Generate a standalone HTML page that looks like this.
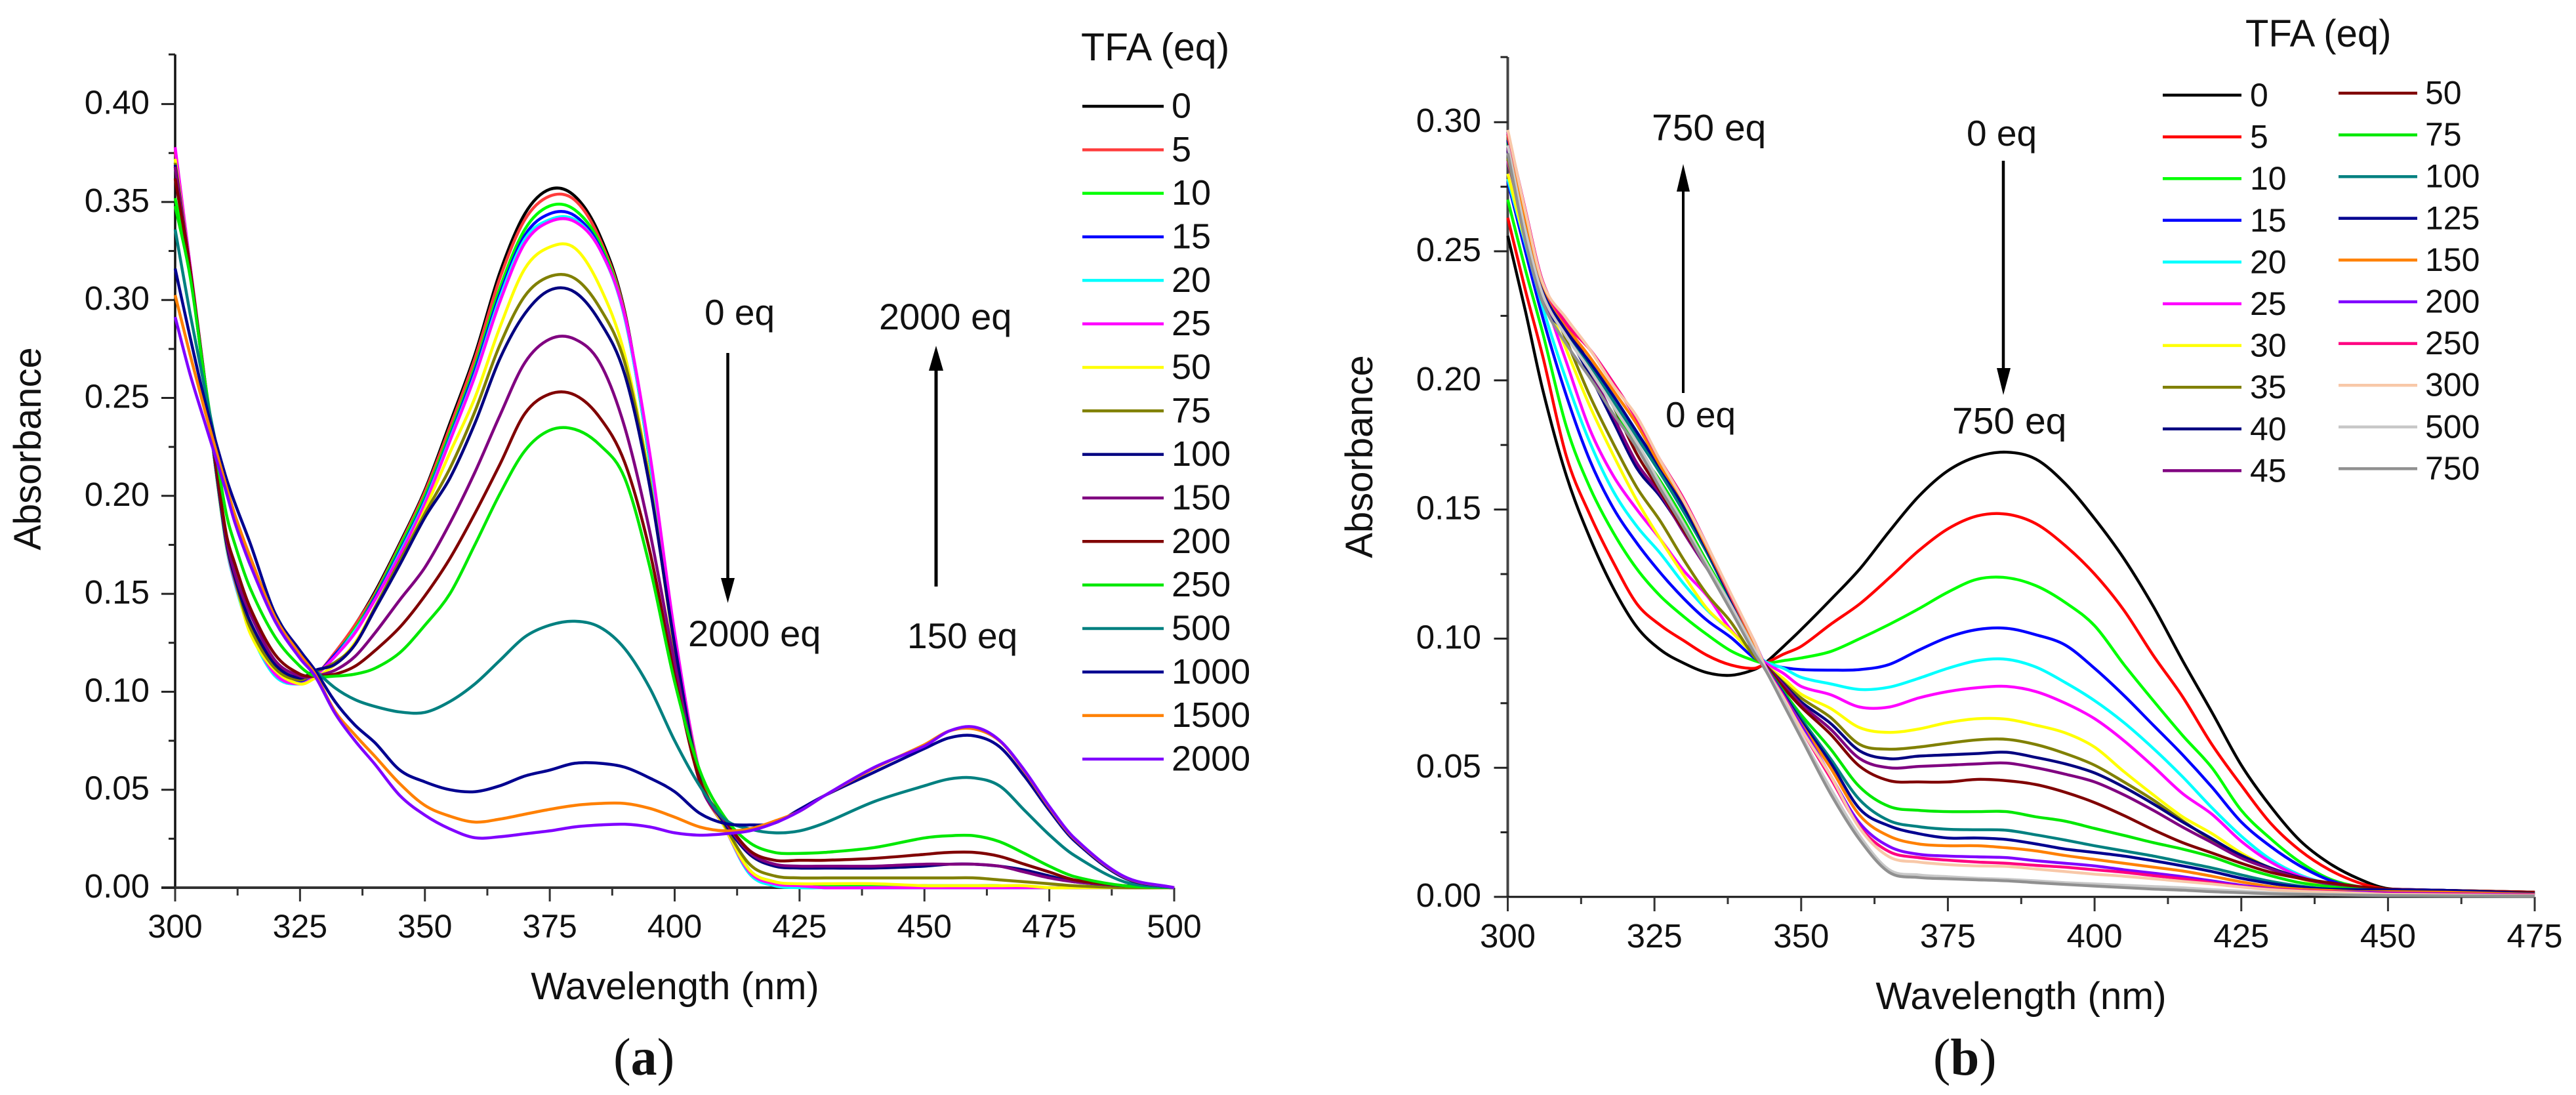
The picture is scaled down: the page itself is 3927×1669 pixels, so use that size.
<!DOCTYPE html>
<html lang="en">
<head>
<meta charset="utf-8">
<title>TFA titration absorbance spectra</title>
<style>
html,body{margin:0;padding:0;background:#fff;}
svg{display:block;}
text{font-family:"Liberation Sans",Arial,sans-serif;fill:#111;}
.serif{font-family:"Liberation Serif","Times New Roman",serif;}
</style>
</head>
<body>
<svg id="figure" xmlns="http://www.w3.org/2000/svg" width="3927" height="1669" viewBox="0 0 3927 1669">
  <rect x="0" y="0" width="3927" height="1669" fill="#fff"/>
  <g id="chartA">
    <text transform="translate(62,684) rotate(-90)" text-anchor="middle" font-size="58">Absorbance</text>
    <text x="1029" y="1523" text-anchor="middle" font-size="58">Wavelength (nm)</text>
    <text x="1648" y="92" font-size="59">TFA (eq)</text>
    <text x="1074" y="495" font-size="55">0 eq</text>
    <text x="1049" y="985" font-size="56">2000 eq</text>
    <text x="1340" y="502" font-size="56">2000 eq</text>
    <text x="1383" y="988" font-size="55">150 eq</text>
    <line x1="1109.5" y1="538" x2="1109.5" y2="885" stroke="#000" stroke-width="4.5"/>
    <polygon points="1099,881 1120,881 1109.5,919" fill="#000"/>
    <line x1="1427" y1="894" x2="1427" y2="560" stroke="#000" stroke-width="5"/>
    <polygon points="1416,565 1438,565 1427,527" fill="#000"/>
    <text class="serif" x="935" y="1638" font-size="80">(<tspan font-weight="bold">a</tspan>)</text>
  </g>
  <g id="chartB">
    <text transform="translate(2092,696) rotate(-90)" text-anchor="middle" font-size="58">Absorbance</text>
    <text x="3081" y="1538" text-anchor="middle" font-size="58.5">Wavelength (nm)</text>
    <text x="3423" y="71" font-size="58">TFA (eq)</text>
    <text x="2518" y="214" font-size="57">750 eq</text>
    <text x="2539" y="651" font-size="55">0 eq</text>
    <text x="2998" y="222" font-size="55">0 eq</text>
    <text x="2976" y="661" font-size="57">750 eq</text>
    <line x1="2566" y1="599" x2="2566" y2="288" stroke="#000" stroke-width="4"/>
    <polygon points="2556,292 2576,292 2566,250" fill="#000"/>
    <line x1="3054" y1="245" x2="3054" y2="565" stroke="#000" stroke-width="4.5"/>
    <polygon points="3044,561 3065,561 3054,602" fill="#000"/>
    <text class="serif" x="2947" y="1638" font-size="79">(<tspan font-weight="bold">b</tspan>)</text>
  </g>
</svg>
<script>
// ---------- Chart (a) data ----------
const wavelengthsA=[300,303,306,310,312,315,320,325,328,332,336,340,345,350,355,360,365,370,375,380,385,390,395,400,405,410,415,420,425,430,440,450,455,460,465,470,475,480,490,500];
const a0=[.368,.316,.256,.179,.156,.132,.111,.105,.108,.120,.134,.151,.176,.203,.237,.272,.314,.344,.3565,.353,.333,.294,.218,.125,.056,.031,.008,.002,.001,0,0,0,0,0,0,0,0,0,0,0];
const a5=[.376,.317,.256,.179,.156,.132,.111,.105,.108,.120,.134,.150,.175,.202,.235,.270,.311,.341,.353,.351,.331,.293,.218,.125,.056,.031,.008,.002,.001,.001,.001,.001,0,0,0,0,0,0,0,0];
const a10=[.352,.314,.256,.179,.156,.132,.111,.105,.108,.119,.132,.149,.174,.200,.232,.266,.306,.336,.348,.346,.329,.292,.218,.126,.057,.032,.009,.003,.001,.001,.001,.001,.001,.001,.001,0,0,0,0,0];
const a15=[.370,.316,.256,.179,.156,.132,.111,.105,.108,.119,.131,.148,.172,.198,.230,.264,.303,.333,.344,.343,.327,.291,.219,.127,.058,.032,.008,.002,.001,0,0,0,0,0,0,0,0,0,0,0];
const a20=[.372,.316,.256,.178,.155,.131,.108,.104,.108,.118,.131,.147,.171,.197,.229,.262,.301,.331,.341,.341,.326,.291,.219,.127,.058,.031,.007,.001,0,0,0,0,0,0,0,0,0,0,0,0];
const a25=[.378,.318,.258,.179,.156,.132,.109,.104,.108,.118,.130,.147,.170,.196,.228,.261,.299,.329,.340,.340,.326,.292,.222,.130,.059,.031,.008,.002,.001,0,0,0,0,0,0,0,0,0,0,0];
const a50=[.372,.316,.256,.179,.157,.130,.111,.104,.107,.114,.125,.143,.1665,.193,.222,.250,.286,.316,.327,.3265,.307,.272,.208,.122,.058,.031,.009,.003,.002,.002,.002,.001,.001,.001,.001,.001,0,0,0,0];
const a75=[.370,.316,.256,.180,.157,.133,.112,.106,.110,.115,.124,.143,.167,.191,.214,.243,.277,.302,.312,.311,.296,.268,.207,.123,.058,.032,.012,.006,.005,.005,.005,.005,.005,.005,.004,.003,.002,.001,0,0];
const a100=[.369,.316,.257,.180,.158,.136,.114,.107,.111,.114,.124,.142,.165,.189,.209,.237,.270,.293,.305,.304,.289,.262,.205,.124,.056,.033,.017,.011,.010,.010,.010,.011,.012,.012,.011,.009,.006,.003,.001,0];
const a150=[.368,.316,.258,.182,.160,.140,.116,.108,.108,.111,.118,.130,.147,.1635,.186,.212,.241,.268,.280,.280,.268,.235,.182,.115,.054,.034,.018,.012,.011,.011,.011,.012,.012,.012,.011,.008,.005,.003,.001,0];
const a200=[.362,.316,.258,.184,.165,.143,.119,.109,.108,.109,.113,.121,.133,.149,.168,.191,.216,.242,.252,.2515,.24,.217,.172,.108,.055,.035,.019,.014,.014,.014,.015,.017,.018,.018,.016,.012,.008,.004,.001,0];
const a250=[.348,.312,.258,.194,.175,.153,.128,.113,.108,.108,.109,.112,.120,.134,.150,.175,.201,.223,.2335,.234,.226,.209,.164,.105,.060,.036,.023,.018,.0175,.018,.0205,.0254,.0265,.0265,.0235,.0175,.011,.0057,.001,0];
const a500=[.336,.293,.254,.205,.188,.165,.140,.118,.111,.102,.096,.0925,.0897,.0895,.095,.104,.116,.128,.134,.136,.133,.122,.102,.075,.052,.035,.030,.028,.029,.033,.044,.052,.0555,.056,.052,.0396,.027,.0165,.003,0];
const a1000=[.316,.281,.248,.211,.196,.176,.140,.121,.111,.095,.083,.074,.060,.054,.050,.049,.052,.057,.060,.0635,.0635,.0615,.056,.049,.038,.0328,.032,.033,.040,.047,.059,.071,.0765,.0775,.072,.057,.0395,.024,.005,0];
const a1500=[.3025,.272,.243,.207,.190,.169,.138,.119,.109,.090,.078,.067,.053,.042,.0365,.0335,.035,.0375,.040,.042,.043,.043,.0405,.036,.031,.029,.030,.034,.039,.047,.061,.073,.080,.081,.075,.0595,.041,.025,.0055,0];
const a2000=[.2913,.262,.237,.204,.186,.165,.136,.117,.108,.089,.075,.063,.047,.037,.030,.0255,.026,.0275,.029,.031,.032,.0324,.031,.028,.0268,.0275,.029,.033,.039,.047,.0615,.0723,.080,.082,.0753,.06,.0415,.0254,.0057,0];
const seriesA=[a0,a5,a10,a15,a20,a25,a50,a75,a100,a150,a200,a250,a500,a1000,a1500,a2000];
const labelsA=["0","5","10","15","20","25","50","75","100","150","200","250","500","1000","1500","2000"];
const colorsA=["#000000","#ff3c3c","#00ff00","#0000ff","#00ffff","#ff00ff","#ffff00","#808000","#000080","#800080","#800000","#00e800","#008080","#000090","#ff8000","#8000ff"];
const xTicksA=[300,325,350,375,400,425,450,475,500];
const yTicksA=[0,0.05,0.10,0.15,0.20,0.25,0.30,0.35,0.40];

// ---------- Chart (b) data ----------
const wavelengthsB=[300,303,306,310,314,318,322,326,330,334,338,342,344,347,350,355,360,365,370,375,380,385,390,395,400,405,410,415,420,425,430,435,440,445,450,460,475];
const b0=[.256,.227,.196,.163,.139,.1195,.1045,.0957,.0905,.0868,.0858,.088,.0908,.097,.1035,.115,.127,.1415,.155,.165,.1705,.1722,.1695,.16,.1465,.131,.1125,.0915,.0715,.051,.035,.0218,.013,.007,.0032,.0025,.0018];
const b5=[.263,.235,.209,.1705,.148,.1295,.1135,.1052,.0992,.0935,.0898,.0885,.0905,.094,.097,.1055,.1135,.1235,.134,.1425,.1475,.1482,.1445,.136,.125,.111,.0935,.0775,.059,.0432,.0285,.018,.0105,.0055,.003,.0025,.0018];
const b10=[.27,.243,.218,.182,.1585,.141,.127,.1165,.1085,.1015,.0953,.0915,.0905,.0915,.0925,.095,.100,.1055,.1115,.118,.123,.1236,.1205,.114,.105,.090,.076,.0625,.050,.0335,.0225,.0135,.007,.004,.003,.0025,.0015];
const b15=[.277,.25,.224,.194,.169,.1505,.137,.1255,.1155,.107,.1005,.0925,.0905,.0888,.088,.0878,.088,.090,.0955,.1005,.1035,.104,.1015,.0975,.0885,.078,.0665,.055,.0425,.029,.0195,.012,.0065,.0035,.003,.0025,.0015];
const b20=[.278,.253,.228,.2,.176,.157,.1435,.133,.1212,.111,.103,.0945,.091,.0885,.085,.0825,.0803,.0812,.0846,.0885,.0915,.092,.089,.083,.076,.0675,.0575,.0465,.0345,.0235,.0145,.0085,.005,.003,.0025,.002,.0015];
const b25=[.285,.258,.234,.207,.181,.163,.150,.1385,.1263,.1165,.1035,.0945,.0905,.0865,.0815,.0783,.0735,.0735,.077,.0795,.081,.0815,.0795,.075,.069,.0605,.0505,.040,.032,.0215,.0135,.008,.005,.003,.0025,.002,.0015];
const b30=[.28,.254,.234,.2118,.19,.171,.1535,.1385,.1245,.1115,.103,.0935,.0895,.0845,.0785,.073,.0655,.0637,.065,.0675,.0690,.0688,.0665,.0635,.058,.0485,.0395,.031,.0245,.017,.011,.007,.0045,.003,.0025,.002,.0012];
const b35=[.286,.257,.237,.2155,.194,.1755,.1585,.1455,.1305,.117,.1065,.093,.0895,.083,.077,.0695,.059,.0572,.058,.0595,.0608,.061,.059,.0555,.051,.0445,.0375,.0295,.022,.0162,.0112,.0075,.005,.003,.0025,.002,.0012];
const b40=[.289,.255,.23,.218,.202,.184,.166,.155,.1415,.1275,.114,.095,.0895,.0825,.0755,.0672,.0565,.0535,.0545,.055,.0555,.056,.054,.0515,.048,.0425,.036,.029,.0225,.016,.0112,.0075,.005,.0035,.003,.0025,.0015];
const b45=[.29,.256,.231,.219,.204,.186,.168,.156,.141,.127,.1135,.0945,.0895,.082,.0745,.065,.0535,.050,.0505,.051,.0515,.0518,.050,.0475,.0445,.0395,.0335,.027,.021,.015,.0108,.0072,.005,.0035,.003,.0025,.0015];
const b50=[.291,.257,.232,.221,.206,.19,.1715,.157,.142,.128,.114,.095,.0895,.081,.0735,.063,.0505,.045,.0445,.0445,.0455,.045,.0435,.0405,.0365,.0315,.026,.021,.017,.013,.0095,.0072,.0055,.004,.003,.0025,.0018];
const b75=[.292,.258,.233,.2185,.204,.19,.174,.161,.146,.1295,.1135,.0955,.089,.0795,.0705,.0573,.0425,.035,.0335,.033,.033,.033,.031,.0293,.0265,.0238,.021,.0185,.0155,.0115,.0082,.0055,.004,.003,.0025,.002,.0012];
const b100=[.293,.261,.235,.218,.206,.192,.178,.164,.149,.133,.115,.097,.089,.079,.069,.0535,.0375,.0295,.0272,.0262,.026,.0258,.024,.022,.0198,.0178,.0158,.0135,.0112,.0085,.006,.0042,.003,.0028,.0025,.0022,.0012];
const b125=[.293,.262,.235,.219,.207,.194,.180,.166,.151,.134,.1155,.0975,.089,.0785,.068,.052,.034,.0275,.0245,.0228,.0228,.0222,.0205,.0185,.0172,.0158,.014,.012,.0098,.0072,.0052,.0038,.003,.0028,.0027,.0025,.0012];
const b150=[.295,.263,.237,.221,.209,.196,.183,.167,.153,.135,.1165,.098,.089,.078,.067,.05,.0315,.0235,.0205,.0198,.0198,.019,.0178,.016,.0145,.013,.0115,.010,.008,.0058,.004,.003,.0025,.002,.002,.0018,.001];
const b200=[.296,.266,.238,.222,.212,.199,.185,.169,.154,.136,.117,.099,.089,.078,.0665,.047,.0285,.0195,.0165,.0158,.0155,.0152,.014,.013,.012,.0105,.0092,.0078,.0062,.0045,.0032,.0025,.002,.0018,.0015,.0012,.0008];
const b250=[.296,.266,.238,.222,.212,.199,.185,.169,.154,.136,.117,.099,.0885,.0775,.065,.046,.027,.0175,.0152,.0142,.0135,.013,.0122,.0115,.0105,.0095,.0082,.007,.0055,.004,.003,.0025,.002,.0015,.0012,.001,.0006];
const b300=[.297,.2655,.2375,.224,.212,.198,.186,.169,.1533,.136,.1175,.099,.0885,.077,.065,.047,.0265,.0155,.0135,.0125,.012,.0118,.0108,.0098,.0088,.008,.007,.006,.005,.0038,.0028,.0022,.0018,.0014,.001,.0008,.0005];
const b500=[.291,.258,.233,.217,.204,.19,.176,.16,.1445,.1285,.113,.096,.088,.076,.0625,.042,.0235,.0105,.0085,.0078,.0072,.0068,.0062,.0055,.005,.0045,.004,.0035,.0028,.0022,.0016,.0012,.001,.0008,.0006,.0005,.0003];
const b750=[.288,.254,.23,.214,.201,.187,.174,.158,.143,.127,.111,.0945,.0875,.0745,.0615,.040,.022,.0095,.0075,.007,.0066,.0062,.0055,.0048,.0042,.0036,.003,.0026,.002,.0016,.0012,.001,.0008,.0006,.0005,.0004,.0003];
const seriesB=[b0,b5,b10,b15,b20,b25,b30,b35,b40,b45,b50,b75,b100,b125,b150,b200,b250,b300,b500,b750];
const labelsB=["0","5","10","15","20","25","30","35","40","45","50","75","100","125","150","200","250","300","500","750"];
const colorsB=["#000000","#ff0000","#00ff00","#0000ff","#00ffff","#ff00ff","#ffff00","#808000","#000080","#800080","#800000","#00e800","#008080","#000090","#ff8000","#8000ff","#ff0080","#f8c8a8","#c8c8c8","#909090"];
const xTicksB=[300,325,350,375,400,425,450,475];
const yTicksB=[0,0.05,0.10,0.15,0.20,0.25,0.30];

// ---------- Drawing ----------
const NS="http://www.w3.org/2000/svg";
function make(tag,parent){const el=document.createElementNS(NS,tag);parent.appendChild(el);return el;}

function curvePath(wl,vals,sx,sy){
  const n=Math.min(wl.length,vals.length);
  const slope=[];
  for(let i=0;i<n;i++){
    const a=Math.max(0,i-1),b=Math.min(n-1,i+1);
    slope.push((vals[b]-vals[a])/(wl[b]-wl[a]));
  }
  let d="M"+sx(wl[0]).toFixed(1)+" "+sy(vals[0]).toFixed(1);
  for(let i=0;i<n-1;i++){
    const h=wl[i+1]-wl[i];
    const x1=wl[i]+h/3,y1=vals[i]+slope[i]*h/3;
    const x2=wl[i+1]-h/3,y2=vals[i+1]-slope[i+1]*h/3;
    d+="C"+sx(x1).toFixed(1)+" "+sy(y1).toFixed(1)+" "+sx(x2).toFixed(1)+" "+sy(y2).toFixed(1)+" "+sx(wl[i+1]).toFixed(1)+" "+sy(vals[i+1]).toFixed(1);
  }
  return d;
}

function drawAxes(root,prefix,sx,sy,xTicks,yTicks,xMax,yTop,opt){
  const g=make("g",root);
  
  
  const yAxis=make("line",g);
  
  
  yAxis.setAttribute("x1",sx(300));yAxis.setAttribute("x2",sx(300));
  yAxis.setAttribute("y1",yTop);yAxis.setAttribute("y2",sy(0));
  yAxis.setAttribute("stroke",opt.yColor);yAxis.setAttribute("stroke-width",opt.yWidth);
  const xAxis=make("line",g);
  
  
  xAxis.setAttribute("x1",sx(300)-opt.majorY);xAxis.setAttribute("x2",sx(xMax));
  xAxis.setAttribute("y1",sy(0));xAxis.setAttribute("y2",sy(0));
  xAxis.setAttribute("stroke",opt.xColor);xAxis.setAttribute("stroke-width",opt.xWidth);

  const topCap=make("line",g);
  
  
  topCap.setAttribute("x1",sx(300)-opt.minorY);topCap.setAttribute("x2",sx(300));
  topCap.setAttribute("y1",yTop);topCap.setAttribute("y2",yTop);
  topCap.setAttribute("stroke","#222");topCap.setAttribute("stroke-width",3);

  xTicks.forEach(function(t,i){
    const tick=make("line",g);
    
    
    tick.setAttribute("x1",sx(t));tick.setAttribute("x2",sx(t));
    tick.setAttribute("y1",sy(0));tick.setAttribute("y2",sy(0)+opt.majorX);
    tick.setAttribute("stroke","#333");tick.setAttribute("stroke-width",3);
    if(i<xTicks.length-1){
      const minor=make("line",g);
      
      
      const mid=(t+xTicks[i+1])/2;
      minor.setAttribute("x1",sx(mid));minor.setAttribute("x2",sx(mid));
      minor.setAttribute("y1",sy(0));minor.setAttribute("y2",sy(0)+opt.minorX);
      minor.setAttribute("stroke","#333");minor.setAttribute("stroke-width",3);
    }
    const lab=make("text",g);
    
    
    lab.setAttribute("x",sx(t));lab.setAttribute("y",opt.xLabelY);
    lab.setAttribute("text-anchor","middle");lab.setAttribute("font-size",opt.tickFont);
    lab.textContent=String(t);
  });
  yTicks.forEach(function(t,i){
    const tick=make("line",g);
    
    
    tick.setAttribute("x1",sx(300)-opt.majorY);tick.setAttribute("x2",sx(300));
    tick.setAttribute("y1",sy(t));tick.setAttribute("y2",sy(t));
    tick.setAttribute("stroke","#222");tick.setAttribute("stroke-width",3);
    if(i<yTicks.length-1){
      const minor=make("line",g);
      
      
      const mid=(t+yTicks[i+1])/2;
      minor.setAttribute("x1",sx(300)-opt.minorY);minor.setAttribute("x2",sx(300));
      minor.setAttribute("y1",sy(mid));minor.setAttribute("y2",sy(mid));
      minor.setAttribute("stroke","#222");minor.setAttribute("stroke-width",3);
    }
    const lab=make("text",g);
    
    
    lab.setAttribute("x",opt.yLabelX);lab.setAttribute("y",sy(t)+15);
    lab.setAttribute("text-anchor","end");lab.setAttribute("font-size",opt.tickYFont);
    lab.textContent=t.toFixed(2);
  });
}

function drawSeries(root,prefix,wl,series,labels,colors,sx,sy,width){
  const g=make("g",root);
  
  
  series.forEach(function(vals,i){
    const p=make("path",g);
    
    
    p.setAttribute("d",curvePath(wl,vals,sx,sy));
    p.setAttribute("fill","none");
    p.setAttribute("stroke",colors[i]);
    p.setAttribute("stroke-width",width);
    p.setAttribute("stroke-linejoin","round");
  });
}

function drawLegendEntry(root,prefix,label,color,x1,x2,y,textX,textY,size){
  const g=make("g",root);
  
  
  const l=make("line",g);
  
  
  l.setAttribute("x1",x1);l.setAttribute("x2",x2);
  l.setAttribute("y1",y);l.setAttribute("y2",y);
  l.setAttribute("stroke",color);l.setAttribute("stroke-width",4.5);
  const t=make("text",g);
  
  
  t.setAttribute("x",textX);t.setAttribute("y",textY);
  t.setAttribute("font-size",size);
  t.textContent=label;
}

// Chart (a)
const rootA=document.getElementById("chartA");
const axA={x:function(w){return 267+(w-300)*7.615;},y:function(v){return 1353-v*2986;}};
drawAxes(rootA,"chart-a",axA.x,axA.y,xTicksA,yTicksA,500,83,{
  yColor:"#111",yWidth:3.5,xColor:"#333",xWidth:4,majorX:21,minorX:12,majorY:21,minorY:10,
  xLabelY:1429,tickFont:50,tickYFont:51,yLabelX:228
});
drawSeries(rootA,"chart-a",wavelengthsA,seriesA,labelsA,colorsA,axA.x,axA.y,4.5);
labelsA.forEach(function(lab,i){
  const y=162+66.33*i;
  drawLegendEntry(rootA,"chart-a",lab,colorsA[i],1650,1774,y,1786,y+17.5,54);
});

// Chart (b)
const rootB=document.getElementById("chartB");
const axB={x:function(w){return 2298.5+(w-300)*8.946;},y:function(v){return 1367-v*3936;}};
drawAxes(rootB,"chart-b",axB.x,axB.y,xTicksB,yTicksB,475,87,{
  yColor:"#444",yWidth:4,xColor:"#111",xWidth:3,majorX:22,minorX:11,majorY:21,minorY:11,
  xLabelY:1444,tickFont:51,tickYFont:51,yLabelX:2258
});
drawSeries(rootB,"chart-b",wavelengthsB,seriesB,labelsB,colorsB,axB.x,axB.y,4.4);
labelsB.forEach(function(lab,i){
  if(i<10){
    const y=145+63.6*i;
    drawLegendEntry(rootB,"chart-b",lab,colorsB[i],3297,3417,y,3430,y+17,50);
  }else{
    const y=142+63.6*(i-10);
    drawLegendEntry(rootB,"chart-b",lab,colorsB[i],3565,3685,y,3697,y+16.5,50);
  }
});
</script>
</body>
</html>
